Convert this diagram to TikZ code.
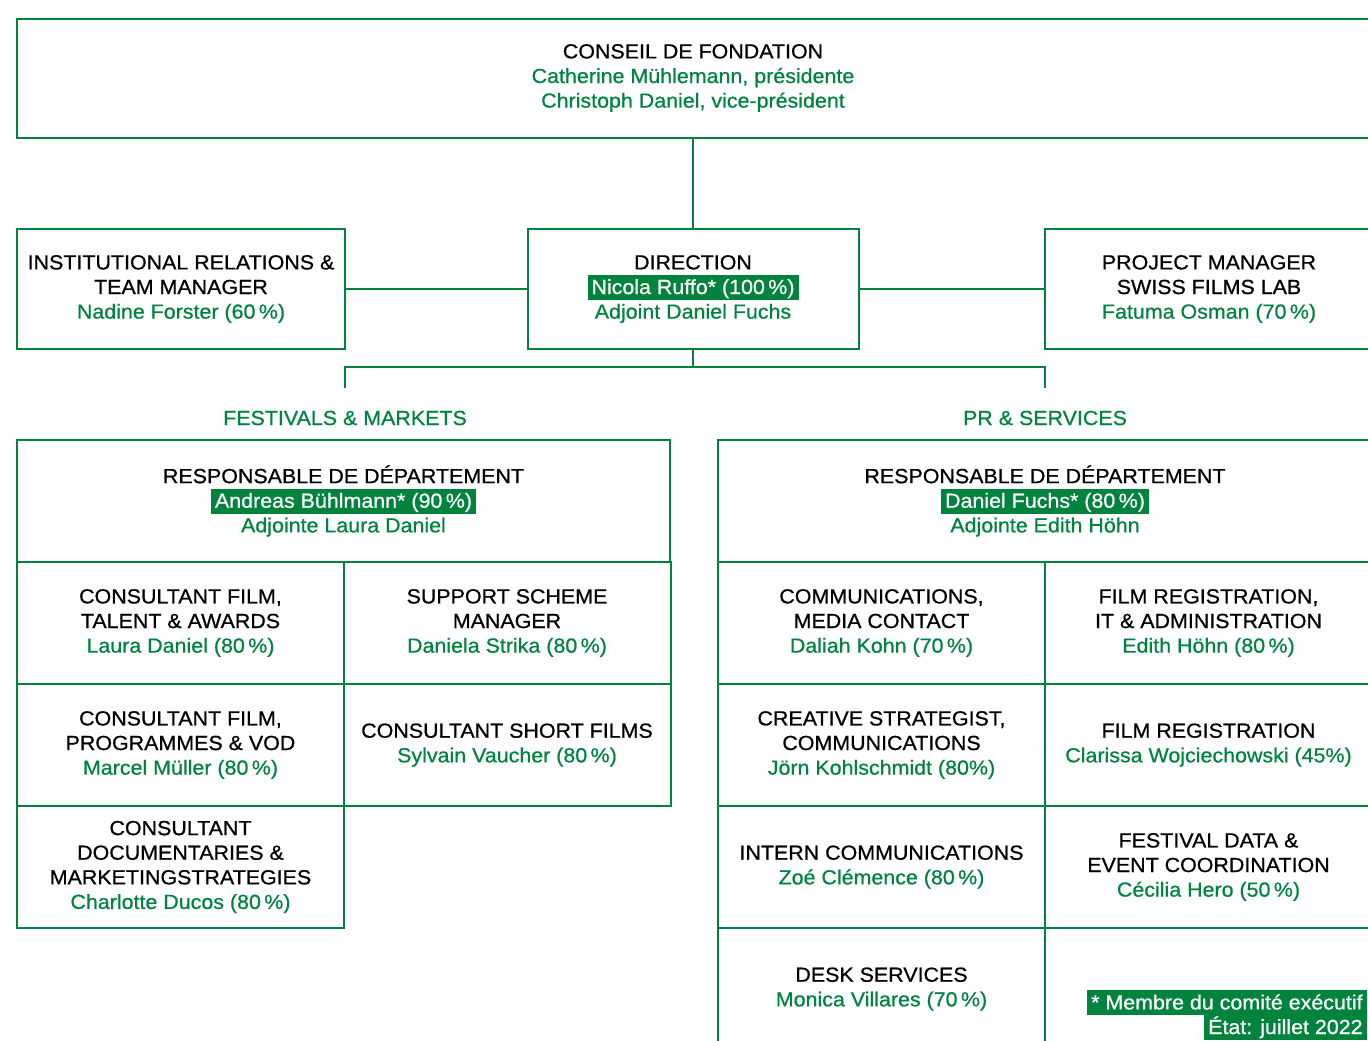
\documentclass[tikz,border=0pt]{standalone}
\usepackage{fontspec}
\setmainfont{Liberation Sans}[FakeStretch=1.05, FakeBold=0.7]
\definecolor{sfgreen}{RGB}{0,132,61}
\newcommand{\who}[1]{\textcolor{sfgreen}{#1}}
\newcommand{\hilite}[1]{{\setlength{\fboxsep}{1pt}\colorbox{sfgreen}{\hspace{1pt}\rule[-2pt]{0pt}{10.5pt}\textcolor{white}{#1}\hspace{1pt}}}}
\newcommand{\boxfont}{\fontsize{10.2}{12.3}\selectfont\setlength{\lineskiplimit}{-10pt}\relax}
\tikzset{
    box/.style={draw=sfgreen, line width=1pt, align=center, inner sep=0pt, font=\boxfont},
    rowbox/.style={box, minimum width=164pt, minimum height=60pt},
    cell/.style={box, minimum width=163.5pt, minimum height=61pt},
    deptlabel/.style={text=sfgreen, inner sep=0pt, font=\boxfont},
    link/.style={draw=sfgreen, line width=1pt}
}

\begin{document}
\begin{tikzpicture}[x=0.5pt, y=-0.5pt]
    \useasboundingbox (0, 0) rectangle (1368, 1040);
    \clip (0, 0) rectangle (1368, 1040);
    % board and direction
    \node [box, minimum width=676pt, minimum height=59.5pt] (conseil) at (693, 78)
        {CONSEIL DE FONDATION\\\who{Catherine Mühlemann, présidente}\\\who{Christoph Daniel, vice-président}};
    \node [rowbox] (relations) at (181, 289)
        {INSTITUTIONAL RELATIONS \&\\TEAM MANAGER\\\who{Nadine Forster (60\,\%)}};
    \node [rowbox, minimum width=165.5pt] (direction) at (693, 289)
        {DIRECTION\\\hilite{Nicola Ruffo* (100\,\%)}\\\who{Adjoint Daniel Fuchs}};
    \node [rowbox] (lab) at (1209, 289)
        {PROJECT MANAGER\\SWISS FILMS LAB\\\who{Fatuma Osman (70\,\%)}};
    \draw [link] (conseil) -- (direction);
    \draw [link] (relations) -- (direction);
    \draw [link] (direction) -- (lab);
    \coordinate (split) at (693, 367);
    \coordinate (fmtop) at (345, 388);
    \coordinate (pstop) at (1045, 388);
    \draw [link] (direction.south) -- (split);
    \draw [link] (fmtop) |- (split) -| (pstop);
    % departments
    \node [deptlabel] (fmlabel) at (345, 418) {FESTIVALS \& MARKETS};
    \node [deptlabel] (pslabel) at (1045, 418) {PR \& SERVICES};
    \node [cell, minimum width=326.5pt] (fmhead) at (343.5, 501)
        {RESPONSABLE DE DÉPARTEMENT\\\hilite{Andreas Bühlmann* (90\,\%)}\\\who{Adjointe Laura Daniel}};
    \node [cell, minimum width=327pt] (pshead) at (1045, 501)
        {RESPONSABLE DE DÉPARTEMENT\\\hilite{Daniel Fuchs* (80\,\%)}\\\who{Adjointe Edith Höhn}};
    % festivals & markets
    \node [cell] (talent) at (180.5, 623)
        {CONSULTANT FILM,\\TALENT \& AWARDS\\\who{Laura Daniel (80\,\%)}};
    \node [cell] (support) at (507, 623)
        {SUPPORT SCHEME\\MANAGER\\\who{Daniela Strika (80\,\%)}};
    \node [cell] (vod) at (180.5, 745)
        {CONSULTANT FILM,\\PROGRAMMES \& VOD\\\who{Marcel Müller (80\,\%)}};
    \node [cell] (short) at (507, 745)
        {CONSULTANT SHORT FILMS\\\who{Sylvain Vaucher (80\,\%)}};
    \node [cell] (docs) at (180.5, 867)
        {CONSULTANT\\DOCUMENTARIES \&\\MARKETINGSTRATEGIES\\\who{Charlotte Ducos (80\,\%)}};
    % pr & services
    \node [cell] (media) at (881.5, 623)
        {COMMUNICATIONS,\\MEDIA CONTACT\\\who{Daliah Kohn (70\,\%)}};
    \node [cell] (admin) at (1208.5, 623)
        {FILM REGISTRATION,\\IT \& ADMINISTRATION\\\who{Edith Höhn (80\,\%)}};
    \node [cell] (creative) at (881.5, 745)
        {CREATIVE STRATEGIST,\\COMMUNICATIONS\\\who{Jörn Kohlschmidt (80\%)}};
    \node [cell] (registration) at (1208.5, 745)
        {FILM REGISTRATION\\\who{Clarissa Wojciechowski (45\%)}};
    \node [cell] (intern) at (881.5, 867)
        {INTERN COMMUNICATIONS\\\who{Zoé Clémence (80\,\%)}};
    \node [cell] (festdata) at (1208.5, 867)
        {FESTIVAL DATA \&\\EVENT COORDINATION\\\who{Cécilia Hero (50\,\%)}};
    \node [cell] (desk) at (881.5, 989)
        {DESK SERVICES\\\who{Monica Villares (70\,\%)}};
    \node [cell] (spare) at (1208.5, 989) {};
    % footnote
    \node [anchor=north east, align=right, inner sep=0pt, font=\boxfont] (legend) at (1367, 990)
        {\hilite{* Membre du comité exécutif}\\\hilite{État: juillet 2022}};
\end{tikzpicture}
\end{document}
